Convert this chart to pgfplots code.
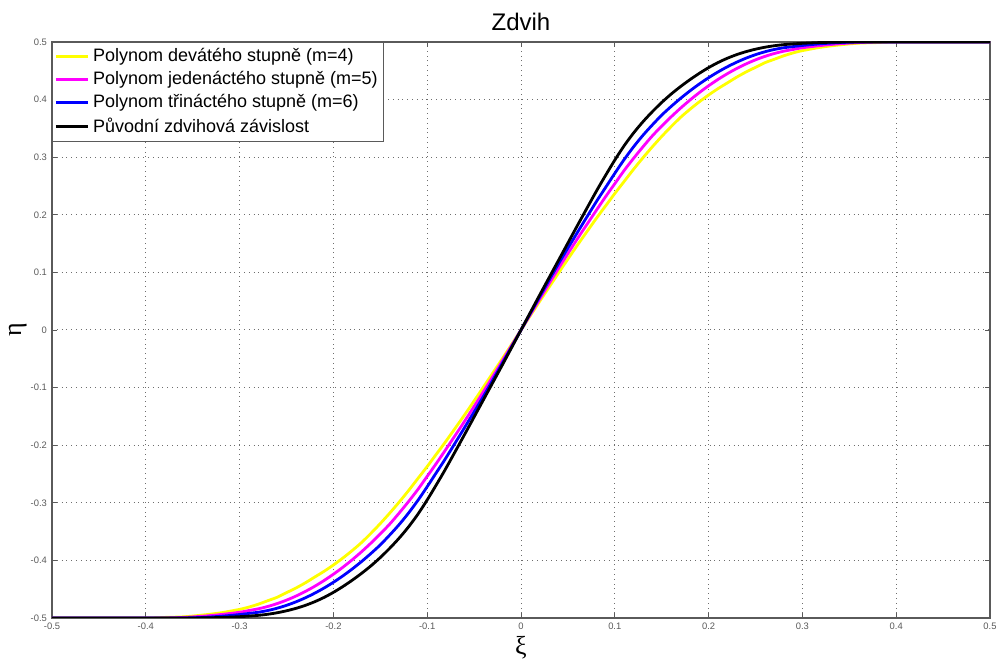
\documentclass[border=0pt]{standalone}
\usepackage{fontspec}
\setmainfont{Liberation Sans}
\newfontfamily\grk{Liberation Serif}
\usepackage{pgfplots}
\usepackage{pgfplotstable}
\pgfplotsset{compat=1.18}
\definecolor{axgray}{RGB}{90,90,90}
\definecolor{gridgray}{RGB}{110,110,110}
\definecolor{cyel}{RGB}{255,255,0}
\definecolor{cmag}{RGB}{255,0,255}
\definecolor{cblu}{RGB}{0,0,255}
\pgfplotstableread{
x     yel   mag   blu   blk
0     0     0     0     0
0.02  0.050 0.054 0.058 0.061
0.04  0.099 0.107 0.115 0.121
0.06  0.147 0.158 0.169 0.181
0.08  0.193 0.207 0.222 0.240
0.09  0.215 0.231 0.247 0.268
0.10  0.237 0.254 0.272 0.295
0.11  0.258 0.277 0.296 0.320
0.12  0.279 0.298 0.318 0.342
0.13  0.299 0.318 0.338 0.3615
0.14  0.318 0.337 0.356 0.379
0.15  0.336 0.354 0.373 0.395
0.16  0.353 0.370 0.388 0.4095
0.17  0.369 0.385 0.402 0.4225
0.18  0.383 0.399 0.415 0.4345
0.19  0.396 0.412 0.427 0.4455
0.20  0.408 0.424 0.438 0.4555
0.21  0.419 0.435 0.448 0.4643
0.22  0.429 0.445 0.457 0.4718
0.23  0.439 0.454 0.465 0.4781
0.24  0.448 0.462 0.472 0.4833
0.25  0.456 0.469 0.478 0.4875
0.26  0.464 0.475 0.483 0.4909
0.27  0.470 0.480 0.487 0.4935
0.28  0.476 0.484 0.490 0.4954
0.29  0.481 0.487 0.492 0.4967
0.30  0.485 0.490 0.494 0.4977
0.32  0.491 0.494 0.497 0.4991
0.34  0.495 0.497 0.499 0.4998
0.36  0.498 0.499 0.500 0.500
0.38  0.499 0.500 0.500 0.500
0.40  0.500 0.500 0.500 0.500
0.50  0.500 0.500 0.500 0.500
}\halfdata
\begin{document}
\begin{tikzpicture}
\useasboundingbox (-26pt,-22pt) rectangle (473.5pt,309pt);
\begin{axis}[
  scale only axis,
  width=469pt, height=288pt,
  xmin=-0.5, xmax=0.5, ymin=-0.5, ymax=0.5,
  xtick={-0.5,-0.4,...,0.5}, ytick={-0.5,-0.4,...,0.5},
  xticklabels={-0.5,-0.4,-0.3,-0.2,-0.1,0,0.1,0.2,0.3,0.4,0.5},
  yticklabels={-0.5,-0.4,-0.3,-0.2,-0.1,0,0.1,0.2,0.3,0.4,0.5},
  /pgf/number format/assume math mode=true,
  tick label style={font=\fontsize{4.7}{5}\selectfont, text=axgray},
  xticklabel style={yshift=1pt},
  yticklabel style={xshift=1pt},
  tick align=inside, major tick length=2.5pt,
  tick style={axgray, line width=0.4pt},
  axis line style={axgray, line width=0.6pt},
  grid=major,
  major grid style={gridgray, dotted, line width=0.5pt},
  title={Zdvih},
  every axis title/.style={at={(0.5,1)}, anchor=base, yshift=5.5pt, inner sep=0pt, font=\fontsize{12}{14}\selectfont},
  xlabel={\grk ξ},
  ylabel={\grk η},
  every axis x label/.style={at={(axis description cs:0.5,0)}, anchor=center, yshift=-15pt, font=\fontsize{13}{14}\selectfont},
  every axis y label/.style={at={(axis description cs:-0.0365,0.5)}, anchor=center, rotate=90, font=\fontsize{13}{14}\selectfont},
  legend style={at={(0,1)}, anchor=north west, draw=axgray, line width=0.5pt,
    font=\fontsize{9}{10.5}\selectfont, inner sep=1pt, row sep=-0.6pt,
    cells={anchor=west}},
  legend image code/.code={\draw[#1, line width=1.3pt] (0pt,0pt) -- (16pt,0pt);},
  every axis plot/.append style={line width=1.4pt, smooth, tension=0.5},
]
\addplot[cyel] table[x=x, y=yel] {\halfdata};
\addlegendentry{Polynom devátého stupně (m=4)}
\addplot[cyel, forget plot] table[x expr=-\thisrow{x}, y expr=-\thisrow{yel}] {\halfdata};
\addplot[cmag] table[x=x, y=mag] {\halfdata};
\addlegendentry{Polynom jedenáctého stupně (m=5)}
\addplot[cmag, forget plot] table[x expr=-\thisrow{x}, y expr=-\thisrow{mag}] {\halfdata};
\addplot[cblu] table[x=x, y=blu] {\halfdata};
\addlegendentry{Polynom třináctého stupně (m=6)}
\addplot[cblu, forget plot] table[x expr=-\thisrow{x}, y expr=-\thisrow{blu}] {\halfdata};
\addplot[black] table[x=x, y=blk] {\halfdata};
\addlegendentry{Původní zdvihová závislost}
\addplot[black, forget plot] table[x expr=-\thisrow{x}, y expr=-\thisrow{blk}] {\halfdata};
\end{axis}
\end{tikzpicture}
\end{document}
